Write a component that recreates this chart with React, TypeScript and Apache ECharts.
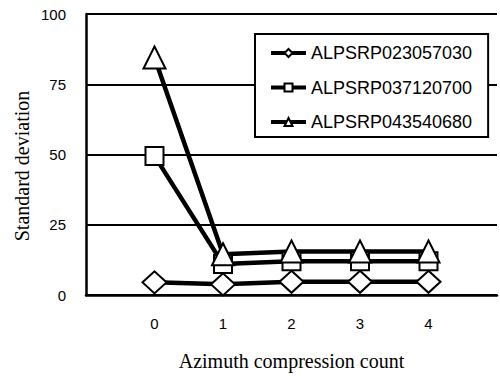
import React, { useEffect, useRef } from "react";
import * as echarts from "echarts";

const xValues = [0, 1, 2, 3, 4];
const seriesNames = ["ALPSRP023057030", "ALPSRP037120700", "ALPSRP043540680"];
const diamondValues = [4.5, 3.8, 4.7, 4.7, 4.7];
const squareValues = [49.5, 11, 12, 12, 12];
const triangleValues = [84.5, 14.5, 15.5, 15.5, 15.5];
const yTicks = [0, 25, 50, 75, 100];

const sans = "Liberation Sans, Arial, sans-serif";
const serif = "Liberation Serif, Times New Roman, serif";

export default function App() {
  const ref = useRef<HTMLDivElement>(null);
  useEffect(() => {
    if (!ref.current) return;
    const chart = echarts.init(ref.current, undefined, { renderer: "svg" });
    const mk = (name: string, vals: number[], symbol: string, size: any) => ({
      name,
      type: "line",
      data: xValues.map((x, i) => [x, vals[i]]),
      symbol,
      symbolSize: size,
      lineStyle: { color: "#000", width: 4.5 },
      itemStyle: { color: "#fff", borderColor: "#000", borderWidth: 2 },
      emphasis: { disabled: true },
    });
    chart.setOption({
      animation: false,
      backgroundColor: "#fff",
      grid: { left: 86, top: 14, width: 419, height: 284, containLabel: false },
      xAxis: {
        type: "value",
        min: -1,
        max: 5,
        interval: 1,
        axisLine: { show: true, onZero: false, lineStyle: { color: "#000", width: 2.5 } },
        axisTick: { show: false },
        splitLine: { show: false },
        axisLabel: {
          margin: 21,
          color: "#000",
          fontFamily: sans,
          fontSize: 15,
          formatter: (v: number) => (xValues.indexOf(v) >= 0 ? String(v) : ""),
        },
        name: "Azimuth compression count",
        nameLocation: "middle",
        nameGap: 56,
        nameTextStyle: { color: "#000", fontFamily: serif, fontSize: 20 },
      },
      yAxis: {
        type: "value",
        min: yTicks[0],
        max: yTicks[yTicks.length - 1],
        interval: 25,
        axisLine: { show: true, onZero: false, lineStyle: { color: "#000", width: 2.5 } },
        axisTick: { show: false },
        splitLine: { show: true, lineStyle: { color: "#000", width: 2 } },
        axisLabel: { margin: 20, color: "#000", fontFamily: sans, fontSize: 15 },
      },
      graphic: [
        {
          type: "text",
          x: 22,
          y: 166,
          rotation: Math.PI / 2,
          style: {
            text: "Standard deviation",
            fill: "#000",
            font: `20px ${serif}`,
            align: "center",
            verticalAlign: "middle",
          },
        },
      ],
      legend: {
        orient: "vertical",
        left: 255,
        top: 34,
        padding: [9, 16, 5, 14],
        itemGap: 14.5,
        itemWidth: 35,
        itemHeight: 10,
        backgroundColor: "#fff",
        borderColor: "#000",
        borderWidth: 2,
        borderRadius: 0,
        lineStyle: { width: 4, color: "#000" },
        textStyle: { color: "#000", fontFamily: sans, fontSize: 18, lineHeight: 20 },
        data: seriesNames,
      },
      series: [
        mk(seriesNames[0], diamondValues, "diamond", [24, 22]),
        mk(seriesNames[1], squareValues, "rect", 18),
        mk(seriesNames[2], triangleValues, "triangle", 22),
      ],
    });
    return () => chart.dispose();
  }, []);
  return (
    <div
      ref={ref}
      style={{ position: "fixed", left: 0, top: 0, width: 500, height: 376 }}
    />
  );
}
